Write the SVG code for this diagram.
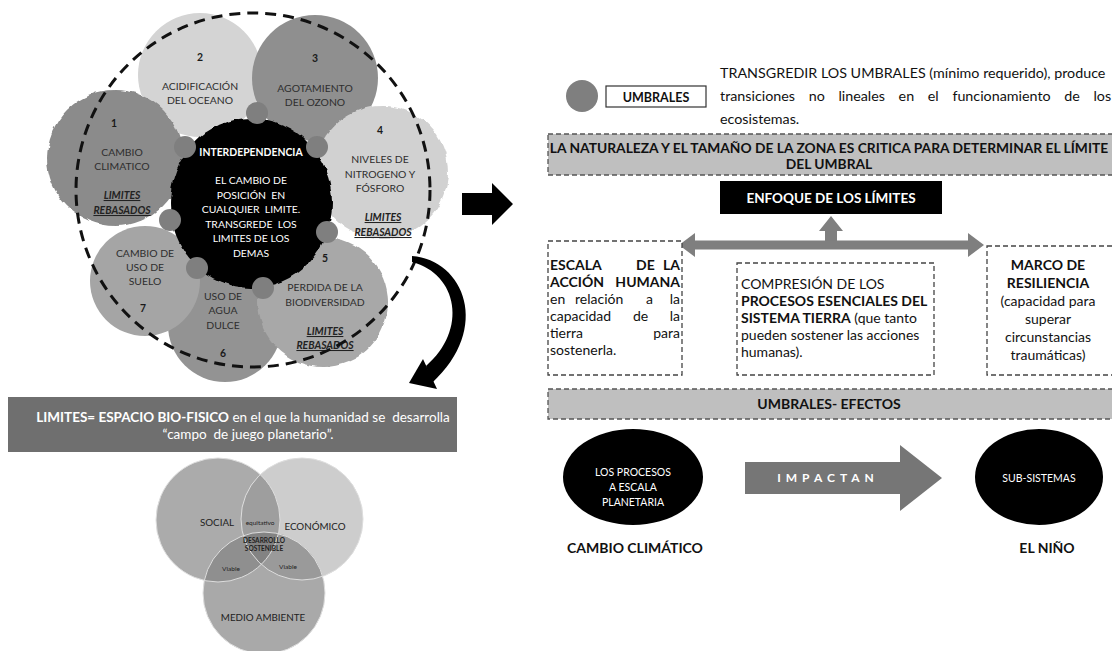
<svg xmlns="http://www.w3.org/2000/svg" width="1112" height="651" viewBox="0 0 1112 651">
<style>
text{font-family:Lato,"Liberation Sans",sans-serif}
.cl{font-size:10.4px;fill:#2e2e2e;text-anchor:middle}
.num{font-weight:bold;fill:#1a1a1a}
.reb{font-weight:bold;font-style:italic;text-decoration:underline;fill:#222}
.bw{font-size:10.4px;fill:#fff;text-anchor:middle}
.dot{fill:#7f7f7f}
.bigdash{fill:none;stroke:#111;stroke-width:3;stroke-dasharray:11 7}
.dbox{fill:#fff;stroke:#444;stroke-width:1.3;stroke-dasharray:5 3}
.band{fill:#bfbfbf;stroke:#555;stroke-width:1.3;stroke-dasharray:5 3}
.rt{font-size:14px;fill:#111}
.b{font-weight:bold}
.vt{font-size:9.8px;fill:#222;text-anchor:middle}
.vs{font-size:6.5px;fill:#222;text-anchor:middle}
.mid{text-anchor:middle}
.end{text-anchor:end}
</style>
<defs>
<filter id="rough" x="-10%" y="-10%" width="120%" height="120%">
<feTurbulence type="fractalNoise" baseFrequency="0.09" numOctaves="2" seed="4" result="n"/>
<feDisplacementMap in="SourceGraphic" in2="n" scale="5" xChannelSelector="R" yChannelSelector="G"/>
</filter>
<clipPath id="cA"><circle cx="218" cy="520" r="62"/></clipPath>
<clipPath id="cB"><circle cx="302" cy="519" r="61"/></clipPath>
<clipPath id="cC"><circle cx="264" cy="593" r="61"/></clipPath>
</defs>
<rect width="1112" height="651" fill="#fff"/>

<g id="node-2">
<circle cx="200" cy="75" r="62" fill="#d4d4d4"/>
<text class="cl num" x="200" y="61">2</text>
<text class="cl" x="200" y="90">ACIDIFICACIÓN</text>
<text class="cl" x="200" y="104">DEL OCEANO</text>
</g>
<g id="node-3">
<circle cx="315" cy="78" r="63" fill="#8f8f8f"/>
<text class="cl num" x="315" y="62">3</text>
<text class="cl" x="315" y="92">AGOTAMIENTO</text>
<text class="cl" x="315" y="106">DEL OZONO</text>
</g>
<g id="node-6">
<circle cx="225" cy="325" r="57" fill="#939393"/>
<text class="cl" x="223" y="300">USO DE</text>
<text class="cl" x="223" y="314">AGUA</text>
<text class="cl" x="223" y="329">DULCE</text>
<text class="cl num" x="223" y="357">6</text>
</g>
<g id="node-5">
<circle cx="323" cy="302" r="65" fill="#a8a8a8" filter="url(#rough)"/>
<text class="cl num" x="325" y="262">5</text>
<text class="cl" x="325" y="291">PERDIDA DE LA</text>
<text class="cl" x="325" y="306">BIODIVERSIDAD</text>
<text class="cl reb" x="325" y="335">LIMITES</text>
<text class="cl reb" x="325" y="349">REBASADOS</text>
</g>
<g id="node-4">
<circle cx="382" cy="172" r="66" fill="#d1d1d1" filter="url(#rough)"/>
<text class="cl num" x="380" y="134">4</text>
<text class="cl" x="380" y="163">NIVELES DE</text>
<text class="cl" x="380" y="178">NITROGENO Y</text>
<text class="cl" x="380" y="192">FÓSFORO</text>
<text class="cl reb" x="383" y="221">LIMITES</text>
<text class="cl reb" x="383" y="236">REBASADOS</text>
</g>
<g id="node-7">
<circle cx="145" cy="281" r="55" fill="#a5a5a5"/>
<text class="cl" x="145" y="257">CAMBIO DE</text>
<text class="cl" x="145" y="271">USO DE</text>
<text class="cl" x="145" y="285">SUELO</text>
<text class="cl num" x="143" y="312">7</text>
</g>
<g id="node-1">
<circle cx="115" cy="158" r="68" fill="#8b8b8b" filter="url(#rough)"/>
<text class="cl num" x="114" y="127">1</text>
<text class="cl" x="122" y="156">CAMBIO</text>
<text class="cl" x="122" y="170">CLIMATICO</text>
<text class="cl reb" x="122" y="199">LIMITES</text>
<text class="cl reb" x="122" y="214">REBASADOS</text>
</g>
<g id="node-interdependencia">
<ellipse cx="251" cy="203" rx="81" ry="85" fill="#000" filter="url(#rough)"/>
<text class="bw b" x="251" y="156">INTERDEPENDENCIA</text>
<text class="bw" x="251" y="184">EL CAMBIO DE</text>
<text class="bw" x="251" y="199" xml:space="preserve">POSICIÓN  EN</text>
<text class="bw" x="251" y="213" xml:space="preserve">CUALQUIER  LIMITE.</text>
<text class="bw" x="251" y="228" xml:space="preserve">TRANSGREDE  LOS</text>
<text class="bw" x="251" y="242">LIMITES DE LOS</text>
<text class="bw" x="251" y="257">DEMAS</text>
</g>
<g id="umbral-dots">
<circle class="dot" cx="257" cy="113" r="11"/>
<circle class="dot" cx="317" cy="147" r="11"/>
<circle class="dot" cx="185" cy="147" r="11"/>
<circle class="dot" cx="170" cy="220" r="11"/>
<circle class="dot" cx="327" cy="232" r="11"/>
<circle class="dot" cx="197" cy="268" r="11"/>
<circle class="dot" cx="263" cy="288" r="11"/>
</g>
<g id="boundary">
<circle class="bigdash" cx="253" cy="190" r="177"/>
</g>

<g id="connectors">
<polygon points="462,193 492,193 492,183 513,204 492,225 492,215 462,215" fill="#000"/>
<path d="M412,256 C464,260 492,328 432,383 L426,366 C468,330 458,274 412,262 Z" fill="#000"/>
<polygon points="409,383 423,359 437,389" fill="#000"/>
<polygon points="831,216 843,231 837,231 837,241 825,241 825,231 819,231" fill="#7f7f7f"/>
<polygon points="679,245 695,233 695,240.5 968,240.5 968,233 984,245 968,257 968,249.5 695,249.5 695,257" fill="#7f7f7f"/>
<polygon points="745,462 900,462 900,445 942,478 900,511 900,494 745,494" fill="#767676"/>
<text x="828" y="482" class="mid b" font-size="12px" fill="#fff" letter-spacing="5">IMPACTAN</text>
</g>

<g id="limites-box">
<rect x="8" y="397" width="449" height="55" fill="#6f6f6f"/>
<text x="243" y="422" class="mid" font-size="13.5px" fill="#fff" xml:space="preserve"><tspan class="b">LIMITES= ESPACIO BIO-FISICO</tspan> en el que la humanidad se  desarrolla</text>
<text x="248" y="439" class="mid" font-size="13.5px" fill="#fff" xml:space="preserve">“campo  de juego planetario”.</text>
</g>

<g id="venn">
<circle cx="218" cy="520" r="62" fill="#ababab"/>
<circle cx="302" cy="519" r="61" fill="#cdcdcd"/>
<circle cx="264" cy="593" r="61" fill="#a9a9a9"/>
<g clip-path="url(#cA)"><circle cx="302" cy="519" r="61" fill="#9e9e9e"/></g>
<g clip-path="url(#cA)"><circle cx="264" cy="593" r="61" fill="#8f8f8f"/></g>
<g clip-path="url(#cB)"><circle cx="264" cy="593" r="61" fill="#9a9a9a"/></g>
<g clip-path="url(#cA)"><g clip-path="url(#cB)"><circle cx="264" cy="593" r="61" fill="#838383"/></g></g>
<circle cx="218" cy="520" r="62" fill="none" stroke="#dedede" stroke-width="1"/>
<circle cx="302" cy="519" r="61" fill="none" stroke="#dedede" stroke-width="1"/>
<circle cx="264" cy="593" r="61" fill="none" stroke="#dedede" stroke-width="1"/>
<text class="vt" x="217" y="526">SOCIAL</text>
<text class="vt" x="315" y="530">ECONÓMICO</text>
<text class="vs" x="260" y="525">equitativo</text>
<text class="vs b" x="264" y="543">DESARROLLO</text>
<text class="vs b" x="264" y="551">SOSTENIBLE</text>
<text class="vs" x="231" y="571">Viable</text>
<text class="vs" x="288" y="569">Viable</text>
<text class="vt" x="263" y="621">MEDIO AMBIENTE</text>
</g>

<g id="umbrales">
<circle cx="582" cy="96" r="16" fill="#7f7f7f"/>
<rect x="606" y="86" width="100" height="21" fill="#fff" stroke="#333" stroke-width="1.2"/>
<text x="656" y="101.5" class="mid b" font-size="12.5px" fill="#111">UMBRALES</text>
<text x="720" y="78" font-size="14.3px" fill="#111">TRANSGREDIR LOS UMBRALES (mínimo requerido), produce</text>
<text x="720" y="101" font-size="14.3px" fill="#111" word-spacing="10">transiciones no lineales en el funcionamiento de los</text>
<text x="720" y="124" font-size="14.3px" fill="#111">ecosistemas.</text>
</g>

<g id="naturaleza">
<rect class="band" x="548" y="134" width="570" height="41"/>
<text x="829" y="153" class="mid b" font-size="13.8px" fill="#111">LA NATURALEZA Y EL TAMAÑO DE LA ZONA ES CRITICA PARA DETERMINAR EL LÍMITE</text>
<text x="829" y="169" class="mid b" font-size="13.8px" fill="#111">DEL UMBRAL</text>
</g>

<g id="enfoque">
<rect x="720" y="181" width="222" height="33" fill="#000"/>
<text x="831" y="202.5" class="mid b" font-size="13.5px" fill="#fff">ENFOQUE DE LOS LÍMITES</text>
</g>

<g id="escala">
<rect class="dbox" x="548" y="241" width="134" height="134"/>
<text class="rt b" x="550" y="270">ESCALA</text><text class="rt b" x="636" y="270">DE</text><text class="rt b end" x="680" y="270">LA</text>
<text class="rt b" x="550" y="287">ACCIÓN</text><text class="rt b end" x="680" y="287">HUMANA</text>
<text class="rt" x="550" y="304">en</text><text class="rt" x="575" y="304">relación</text><text class="rt" x="646" y="304">a</text><text class="rt end" x="680" y="304">la</text>
<text class="rt" x="550" y="321">capacidad</text><text class="rt" x="633" y="321">de</text><text class="rt end" x="680" y="321">la</text>
<text class="rt" x="550" y="338">tierra</text><text class="rt end" x="680" y="338">para</text>
<text class="rt" x="550" y="355">sostenerla.</text>
</g>

<g id="compresion">
<rect class="dbox" x="737" y="263" width="197" height="112"/>
<text class="rt" x="741" y="289">COMPRESIÓN DE LOS</text>
<text class="rt b" x="741" y="306">PROCESOS ESENCIALES DEL</text>
<text class="rt" x="741" y="323"><tspan class="b">SISTEMA TIERRA</tspan> (que tanto</text>
<text class="rt" x="741" y="340">pueden sostener las acciones</text>
<text class="rt" x="741" y="357">humanas).</text>
</g>

<g id="resiliencia">
<rect class="dbox" x="987" y="246" width="140" height="129"/>
<text class="rt b mid" x="1048" y="270">MARCO DE</text>
<text class="rt b mid" x="1048" y="288">RESILIENCIA</text>
<text class="rt mid" x="1048" y="306">(capacidad para</text>
<text class="rt mid" x="1048" y="324">superar</text>
<text class="rt mid" x="1048" y="342">circunstancias</text>
<text class="rt mid" x="1048" y="360">traumáticas)</text>
</g>

<g id="efectos">
<rect class="band" x="548" y="389" width="570" height="30"/>
<text x="829" y="409" class="mid b" font-size="14px" fill="#111">UMBRALES- EFECTOS</text>
</g>

<g id="procesos">
<ellipse cx="633" cy="477" rx="70" ry="48" fill="#000"/>
<text x="633" y="476" class="mid" font-size="10.5px" fill="#fff">LOS PROCESOS</text>
<text x="633" y="491" class="mid" font-size="10.5px" fill="#fff">A ESCALA</text>
<text x="633" y="506" class="mid" font-size="10.5px" fill="#fff">PLANETARIA</text>
<text x="635" y="553" class="mid b" font-size="14px" fill="#111">CAMBIO CLIMÁTICO</text>
</g>

<g id="subsistemas">
<ellipse cx="1039" cy="477" rx="64" ry="48" fill="#000"/>
<text x="1039" y="482" class="mid" font-size="10.5px" fill="#fff">SUB-SISTEMAS</text>
<text x="1047" y="553" class="mid b" font-size="14px" fill="#111">EL NIÑO</text>
</g>
</svg>
